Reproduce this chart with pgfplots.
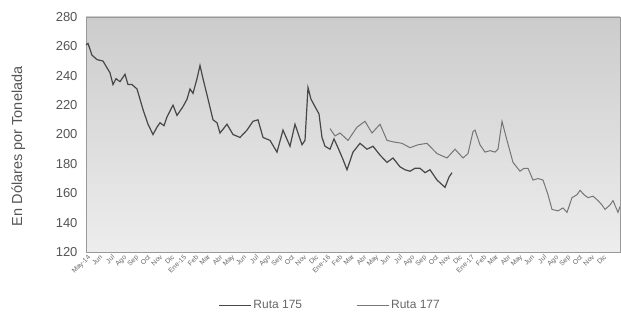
\documentclass[border=0pt]{standalone}
\usepackage{fontspec}
\setmainfont{Liberation Sans}
\usepackage{pgfplots}
\pgfplotsset{compat=1.18}
\usetikzlibrary{backgrounds}
\definecolor{sA}{HTML}{474747}
\definecolor{sB}{HTML}{767676}
\definecolor{txt}{HTML}{555555}
\begin{document}
\begin{tikzpicture}
\begin{axis}[name=ax,
  scale only axis, width=534pt, height=235pt,
  xmin=0, xmax=534, ymin=120, ymax=280,
  ytick={120,140,...,280},
  xtick={0,12,...,516},
  xticklabels={May-14,Jun,Jul,Ago,Sep,Oct,Nov,Dic,Ene-15,Feb,Mar,Abr,May,Jun,Jul,Ago,Sep,Oct,Nov,Dic,Ene-16,Feb,Mar,Abr,May,Jun,Jul,Ago,Sep,Oct,Nov,Dic,Ene-17,Feb,Mar,Abr,May,Jun,Jul,Ago,Sep,Oct,Nov,Dic},
  major tick length=0pt,
  axis line style={draw=black!40, line width=0.8pt},
  /pgf/number format/assume math mode=true,
  yticklabel style={font=\fontsize{13}{13}\selectfont, text=txt, xshift=-5pt},
  xticklabel style={font=\fontsize{6.8}{6.8}\selectfont, text=black!60, rotate=45, anchor=north east, inner sep=0.5pt, yshift=-2pt},
  ylabel={En Dólares por Tonelada},
  every axis y label/.style={at={(axis description cs:-0.127,0.45)}, rotate=90, anchor=center, font=\fontsize{14.5}{14.5}\selectfont, text=txt},
  legend columns=2,
  legend style={draw=none, fill=none, at={(axis description cs:0.457,-0.227)}, anchor=center,
    font=\fontsize{12}{12}\selectfont, text=black!60, /tikz/every even column/.append style={column sep=52pt}},
  legend image code/.code={\draw[#1] (0pt,0pt) -- (32pt,0pt);},
]
\addplot[sA, line width=1.2pt] coordinates {
(0,261)(2,262)(6,254)(11,251)(17,250)(24,242)(27,234)(30,238)(34,236)(39,241)(42,234)(46,234)(51,231)(57,217)(62,207)(67,200)(71,205)(74,208)(78,206)(81,212)(87,220)(91,213)(97,219)(101,224)(104,231)(107,228)(111,238)(114,247)(117,238)(121,227)(127,210)(131,208)(134,201)(141,207)(147,200)(154,198)(161,203)(167,209)(172,210)(177,198)(184,196)(191,188)(197,203)(204,192)(209,207)(216,193)(219,196)(222,232)(225,224)(229,219)(233,214)(236,198)(239,192)(244,190)(248,197)(252,191)(257,183)(261,176)(267,188)(274,194)(281,190)(287,192)(294,186)(301,181)(307,184)(314,178)(319,176)(324,175)(329,177)(334,177)(339,174)(344,176)(351,169)(359,164)(363,171)(366,174)
};
\addlegendentry{Ruta 175}
\addplot[sB, line width=1pt] coordinates {
(244,204)(249,199)(254,201)(262,196)(271,205)(279,209)(286,201)(294,207)(301,196)(307,195)(316,194)(324,191)(332,193)(341,194)(351,187)(361,184)(369,190)(377,184)(382,187)(387,202)(389,203)(394,193)(399,188)(404,189)(409,188)(412,190)(416,209)(421,196)(427,181)(434,175)(438,177)(442,177)(447,169)(452,170)(457,169)(462,159)(466,149)(472,148)(477,150)(481,147)(486,157)(491,159)(494,162)(498,159)(502,157)(507,158)(512,155)(516,152)(519,149)(524,152)(527,155)(532,147)(534,151)
};
\addlegendentry{Ruta 177}
\end{axis}
\begin{pgfonlayer}{background}
\shade[top color=black!20, middle color=white, bottom color=black!7] (ax.south west) rectangle (ax.north east);
\end{pgfonlayer}
\path[shift={(ax.south west)}] (-86pt,-66pt) rectangle (535pt,252pt);
\end{tikzpicture}
\end{document}
